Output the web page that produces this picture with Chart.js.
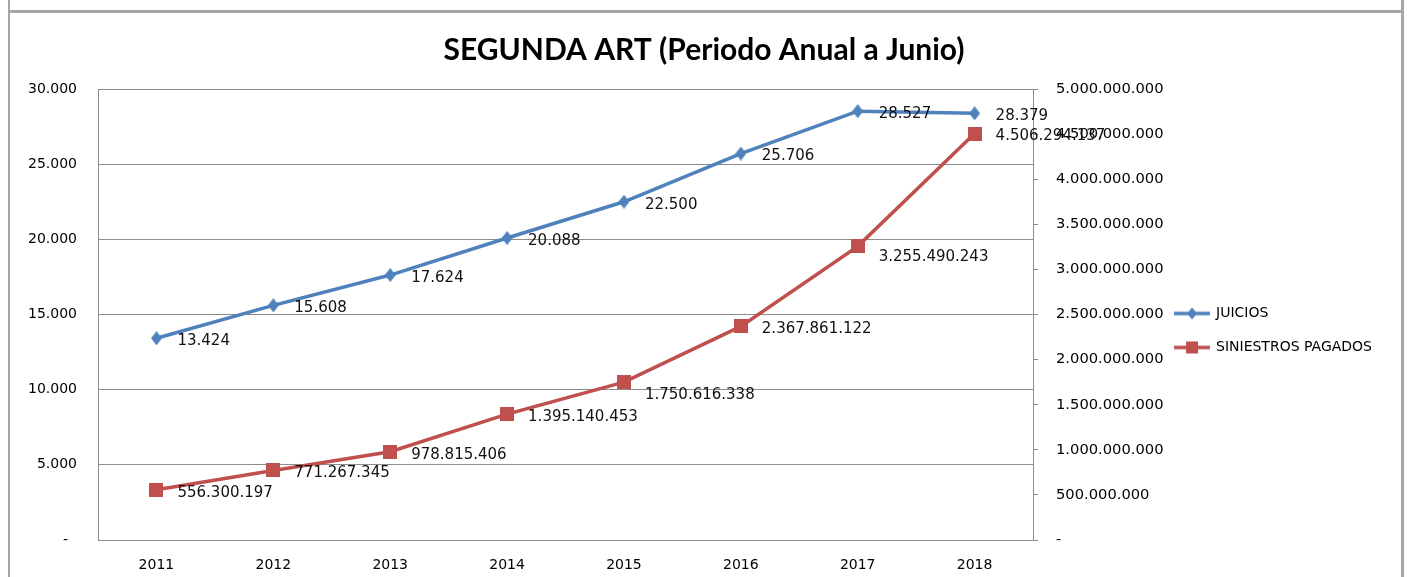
<!DOCTYPE html>
<html><head><meta charset="utf-8">
<script src="https://cdn.jsdelivr.net/npm/chart.js@4.4.1/dist/chart.umd.min.js"></script>
<style>
html,body{margin:0;padding:0;background:#fff;overflow:hidden}
#wrap{position:relative;width:1408px;height:577px}
canvas{position:absolute;left:0;top:0}
.ln{position:absolute;background:#a6a6a6}
</style></head><body>
<div id="wrap">
<div class="ln" style="left:8px;top:0;width:2px;height:577px"></div>
<div class="ln" style="left:8px;top:10px;width:1394px;height:3px"></div>
<div class="ln" style="left:1401px;top:0;width:3px;height:577px"></div>
<canvas id="c" width="1408" height="577"></canvas>
</div>
<script>
const categories = ['2011','2012','2013','2014','2015','2016','2017','2018'];
const juicios = [13424, 15608, 17624, 20088, 22500, 25706, 28527, 28379];
const siniestros = [556300197, 771267345, 978815406, 1395140453, 1750616338, 2367861122, 3255490243, 4506294137];
const seriesNames = ['JUICIOS', 'SINIESTROS PAGADOS'];
const leftAxis = {min: 0, max: 30000, step: 5000};
const rightAxis = {min: 0, max: 5000000000, step: 500000000};

const BLUE = '#4F81BD', RED = '#C0504D', GRID = '#8c8c8c';

function fmt(v) {
  if (v === 0) return '-';
  return Math.round(v).toString().replace(/\B(?=(\d{3})+(?!\d))/g, '.');
}

function markerImg(kind, color, w, h) {
  const c = document.createElement('canvas');
  c.width = w; c.height = h;
  const x = c.getContext('2d');
  x.fillStyle = color;
  if (kind === 'diamond') {
    x.beginPath(); x.moveTo(w/2, 0); x.lineTo(w, h/2); x.lineTo(w/2, h); x.lineTo(0, h/2); x.closePath(); x.fill();
  } else {
    x.fillRect(0, 0, w, h);
  }
  return c;
}
function legendImg(kind, color) {
  const W = 36, H = 14;
  const c = document.createElement('canvas');
  c.width = W; c.height = H;
  const x = c.getContext('2d');
  x.strokeStyle = color; x.lineWidth = 3.5;
  x.beginPath(); x.moveTo(0, H/2); x.lineTo(W, H/2); x.stroke();
  x.fillStyle = color;
  if (kind === 'diamond') {
    x.beginPath(); x.moveTo(W/2, 1); x.lineTo(W/2+5, H/2); x.lineTo(W/2, H-1); x.lineTo(W/2-5, H/2); x.closePath(); x.fill();
  } else {
    x.fillRect(W/2-6, 1, 12, 12);
  }
  return c;
}

const diamond = markerImg('diamond', BLUE, 11, 14);
const square = markerImg('square', RED, 14, 14);
const legendPics = [legendImg('diamond', BLUE), legendImg('square', RED)];

const valueLabels = {
  id: 'valueLabels',
  afterDatasetsDraw(chart, args, opts) {
    const ctx = chart.ctx;
    ctx.save();
    ctx.font = '15px "DejaVu Sans"';
    ctx.fillStyle = '#111';
    ctx.textBaseline = 'middle';
    ctx.textAlign = 'left';
    chart.data.datasets.forEach((ds, i) => {
      const meta = chart.getDatasetMeta(i);
      const nudge = (opts.nudge && opts.nudge[i]) || {};
      meta.data.forEach((pt, j) => {
        const dy = nudge[j] !== undefined ? nudge[j] : opts.dy;
        ctx.fillText(fmt(ds.data[j]), pt.x + opts.dx, pt.y + dy);
      });
    });
    ctx.restore();
  }
};

// moves the legend box a little to the left, closer to the right axis labels
const legendShift = {
  id: 'legendShift',
  afterLayout(chart, args, opts) {
    const l = chart.legend;
    if (l) { l.left -= opts.dx; l.right -= opts.dx; }
  }
};

const tickFont = {family: 'DejaVu Sans', size: 14};

new Chart(document.getElementById('c'), {
  type: 'line',
  data: {
    labels: categories,
    datasets: [
      {label: seriesNames[0], data: juicios, yAxisID: 'y', borderColor: BLUE, backgroundColor: BLUE,
       borderWidth: 3.5, pointStyle: diamond, pointRadius: 7, tension: 0, fill: false},
      {label: seriesNames[1], data: siniestros, yAxisID: 'y1', borderColor: RED, backgroundColor: RED,
       borderWidth: 3.5, pointStyle: square, pointRadius: 7, tension: 0, fill: false}
    ]
  },
  plugins: [valueLabels, legendShift],
  options: {
    responsive: false,
    animation: false,
    events: [],
    layout: {padding: {top: 12, left: 13, right: 13, bottom: 0}},
    scales: {
      x: {
        type: 'category', offset: true,
        grid: {display: false, drawTicks: false},
        border: {display: true, color: GRID, width: 1},
        ticks: {color: '#000', font: tickFont, padding: 17, maxRotation: 0, autoSkip: false},
        afterFit(s) { s.height = 37; }
      },
      y: {
        position: 'left', min: leftAxis.min, max: leftAxis.max,
        grid: {color: GRID, lineWidth: 1, drawTicks: false},
        border: {display: true, color: GRID, width: 1},
        ticks: {stepSize: leftAxis.step, color: '#000', font: tickFont, padding: 21,
                callback: v => v === 0 ? '-  ' : fmt(v)},
        afterFit(s) { s.width = 85; }
      },
      y1: {
        position: 'right', min: rightAxis.min, max: rightAxis.max,
        grid: {drawOnChartArea: false, drawTicks: true, tickLength: 5, color: GRID},
        border: {display: true, color: GRID, width: 1},
        ticks: {stepSize: rightAxis.step, color: '#000', font: {family: 'DejaVu Sans', size: 14.7}, padding: 18,
                callback: v => fmt(v)},
        afterFit(s) { s.width = 135; }
      }
    },
    plugins: {
      title: {
        display: true, text: 'SEGUNDA ART (Periodo Anual a Junio)', color: '#000',
        font: {family: 'Lato', size: 30, weight: 'bold'}, padding: {top: 20, bottom: 21}
      },
      legend: {
        display: true, position: 'right', fullSize: false,
        title: {display: true, text: '', font: {size: 10}, padding: 10},
        labels: {
          usePointStyle: true, pointStyleWidth: 34, padding: 20, color: '#000',
          font: {family: 'DejaVu Sans', size: 14},
          generateLabels(chart) {
            const items = Chart.defaults.plugins.legend.labels.generateLabels(chart);
            items.forEach((it, i) => { it.pointStyle = legendPics[i]; });
            return items;
          }
        }
      },
      legendShift: {dx: 13},
      tooltip: {enabled: false},
      valueLabels: {dx: 21, dy: 3, nudge: {1: {4: 13, 6: 11}}}
    }
  }
});
</script>
</body></html>
